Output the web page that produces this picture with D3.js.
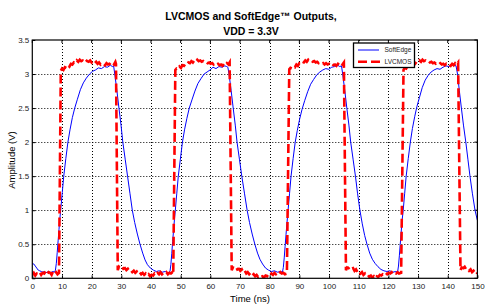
<!DOCTYPE html>
<html lang="en">
<head>
<meta charset="UTF-8">
<title>softedge</title>
<style>
  body{margin:0;background:#fff;}
  svg{display:block;font-family:"Liberation Sans",Arial,sans-serif;}
</style>
</head>
<body>
<svg width="485" height="308"></svg>
<script src="https://cdnjs.cloudflare.com/ajax/libs/d3/7.8.5/d3.min.js"></script>
<script>
// tick values
var xTicks = [0,10,20,30,40,50,60,70,80,90,100,110,120,130,140,150];
var yTicks = [0,0.5,1,1.5,2,2.5,3,3.5];
var yTickLabels = ["0","0.5","1","1.5","2","2.5","3","3.5"];

// series names
var seriesNames = ["SoftEdge","LVCMOS"];

// SoftEdge output, [time ns, volts]
var softEdge = [
 [0,0.22],[0.5,0.21],[1,0.18],[1.5,0.15],[2,0.12],[2.5,0.11],[3,0.10],[3.5,0.09],[4,0.10],[4.5,0.08],[5,0.09],[5.5,0.10],[6,0.08],[6.5,0.09],[7,0.10],[7.5,0.09],
 [7.8,0.12],[8.1,0.22],[8.4,0.38],[8.7,0.55],[9.0,0.72],[9.3,0.88],[9.6,1.02],[10.1,1.26],[10.6,1.50],[11.3,1.76],[12.0,2.00],[12.7,2.18],[13.5,2.36],[14.3,2.50],
 [15.2,2.63],[16.2,2.77],[17.2,2.87],[18.2,2.94],[19.3,3.00],[20.3,3.04],[21.3,3.06],[22.3,3.09],[23.3,3.08],[24.3,3.11],[25.3,3.10],[26.3,3.13],[27.0,3.11],[27.4,3.12],
 [27.8,3.00],[28.5,2.76],[29.2,2.50],[29.9,2.25],[30.5,2.00],[31.3,1.75],[32.1,1.50],[32.9,1.25],[33.7,1.00],[34.5,0.82],[35.4,0.65],[36.3,0.50],[37.2,0.37],[38.0,0.27],
 [38.8,0.20],[39.8,0.15],[40.8,0.12],[41.8,0.10],[42.8,0.11],[43.8,0.09],[44.8,0.10],[45.8,0.08],[46.4,0.10],
 [46.7,0.20],[47.0,0.36],[47.3,0.54],[47.6,0.70],[47.9,0.86],[48.2,1.00],[48.7,1.25],[49.2,1.50],[49.9,1.75],[50.6,2.00],[51.3,2.18],[52.1,2.35],[52.9,2.50],[53.8,2.62],
 [54.8,2.75],[55.8,2.86],[56.8,2.93],[57.9,3.00],[58.9,3.03],[59.9,3.06],[60.9,3.10],[61.9,3.08],[62.9,3.11],[63.9,3.10],[64.9,3.12],[65.5,3.11],[65.9,3.10],
 [66.3,3.00],[67.0,2.76],[67.7,2.50],[68.4,2.25],[69.0,2.00],[69.8,1.75],[70.6,1.50],[71.5,1.25],[72.4,1.00],[73.2,0.82],[74.1,0.65],[75.0,0.50],[75.9,0.37],[76.7,0.28],
 [77.6,0.21],[78.6,0.15],[79.6,0.12],[80.6,0.10],[81.6,0.11],[82.6,0.09],[83.6,0.10],[84.3,0.09],
 [84.6,0.16],[84.9,0.30],[85.2,0.47],[85.5,0.64],[85.8,0.80],[86.2,1.00],[86.7,1.25],[87.2,1.50],[87.9,1.76],[88.6,2.00],[89.3,2.17],[90.1,2.34],[90.9,2.48],[91.8,2.61],
 [92.8,2.74],[93.8,2.85],[94.8,2.92],[95.9,2.99],[96.9,3.03],[97.9,3.06],[98.9,3.08],[99.9,3.07],[100.9,3.10],[101.9,3.11],[102.9,3.13],[103.6,3.11],[104.2,3.12],
 [104.6,3.00],[105.3,2.76],[106.0,2.50],[106.7,2.25],[107.3,2.00],[108.1,1.75],[108.9,1.50],[109.6,1.25],[110.4,1.00],[111.2,0.80],[112.0,0.63],[112.8,0.50],[113.7,0.37],
 [114.6,0.28],[115.5,0.22],[116.5,0.17],[117.5,0.13],[118.5,0.11],[119.5,0.10],[120.5,0.11],[121.5,0.09],[122.5,0.10],[123.1,0.09],
 [123.4,0.18],[123.7,0.33],[124.0,0.50],[124.3,0.67],[124.6,0.84],[125.0,1.00],[125.5,1.25],[126.0,1.50],[126.7,1.76],[127.4,2.00],[128.1,2.20],[128.9,2.38],[129.6,2.52],
 [130.5,2.66],[131.4,2.80],[132.4,2.91],[133.4,2.98],[134.4,3.03],[135.4,3.06],[136.4,3.08],[137.4,3.07],[138.4,3.10],[139.4,3.12],[140.4,3.11],[141.4,3.14],[142.2,3.13],[142.8,3.12],
 [143.3,3.00],[143.9,2.76],[144.6,2.50],[145.3,2.25],[146.1,2.00],[146.8,1.75],[147.5,1.50],[148.3,1.25],[149.2,1.00],[150,0.85]
];

// LVCMOS output, [time ns, volts]
var lvcmos = [
 [0,0.05],[0.5,0.08],[1,0.04],[1.5,0.07],[2,0.06],[2.5,0.09],[3,0.05],[3.5,0.08],[4,0.07],[4.5,0.10],[5,0.06],[5.5,0.09],[6,0.08],[6.5,0.05],[7,0.10],[7.5,0.07],[8,0.09],[8.5,0.06],[9.0,0.08],
 [9.6,3.05],
 [10,3.08],[10.5,3.06],[11,3.10],[11.5,3.09],[12,3.13],[12.5,3.11],[13,3.15],[13.5,3.14],[14,3.17],[14.5,3.16],[15,3.20],[15.5,3.18],[16,3.21],[16.5,3.19],[17,3.20],[17.5,3.18],
 [18,3.21],[18.5,3.19],[19,3.18],[19.5,3.20],[20,3.17],[20.5,3.19],[21,3.16],[21.5,3.18],[22,3.15],[22.5,3.17],[23,3.14],[23.5,3.16],[24,3.15],[24.5,3.13],[25,3.16],[25.5,3.14],
 [26,3.15],[26.5,3.13],[27,3.16],[27.5,3.14],[28,3.18],[28.2,3.15],
 [28.8,0.12],
 [29.2,0.17],[29.7,0.15],[30.2,0.17],[30.7,0.14],[31.2,0.15],[31.7,0.12],[32.2,0.14],[32.7,0.11],[33.2,0.12],[33.7,0.09],[34.2,0.11],[34.7,0.08],[35.2,0.10],[35.7,0.07],
 [36.2,0.09],[36.7,0.06],[37.2,0.08],[37.7,0.05],[38.2,0.07],[38.7,0.04],[39.2,0.06],[39.7,0.03],[40.2,0.05],[40.7,0.04],[41.2,0.07],[41.7,0.05],[42.2,0.08],[42.7,0.06],
 [43.2,0.09],[43.7,0.06],[44.2,0.08],[44.7,0.07],[45.2,0.09],[45.7,0.06],[46.2,0.08],[46.7,0.07],[47.2,0.09],[47.5,0.06],
 [48.2,3.06],
 [48.6,3.08],[49.1,3.07],[49.6,3.11],[50.1,3.09],[50.6,3.13],[51.1,3.12],[51.6,3.15],[52.1,3.14],[52.6,3.17],[53.1,3.16],[53.6,3.19],[54.1,3.17],[54.6,3.20],[55.1,3.18],
 [55.6,3.21],[56.1,3.19],[56.6,3.20],[57.1,3.18],[57.6,3.19],[58.1,3.17],[58.6,3.18],[59.1,3.16],[59.6,3.17],[60.1,3.15],[60.6,3.16],[61.1,3.14],[61.6,3.16],[62.1,3.14],
 [62.6,3.15],[63.1,3.13],[63.6,3.14],[64.1,3.12],[64.6,3.15],[65.1,3.13],[65.6,3.16],[66.1,3.14],[66.5,3.17],
 [67.2,0.12],
 [67.6,0.16],[68.1,0.15],[68.6,0.17],[69.1,0.13],[69.6,0.14],[70.1,0.11],[70.6,0.13],[71.1,0.09],[71.6,0.11],[72.1,0.07],[72.6,0.09],[73.1,0.06],[73.6,0.08],[74.1,0.04],
 [74.6,0.06],[75.1,0.03],[75.6,0.05],[76.1,0.02],[76.6,0.04],[77.1,0.02],[77.6,0.03],[78.1,0.01],[78.6,0.04],[79.1,0.03],[79.6,0.06],[80.1,0.04],[80.6,0.07],[81.1,0.05],
 [81.6,0.08],[82.1,0.06],[82.6,0.08],[83.1,0.06],[83.6,0.09],[84.1,0.07],[84.6,0.08],[85.1,0.06],[85.8,0.07],
 [86.6,3.07],
 [87,3.09],[87.5,3.08],[88,3.11],[88.5,3.10],[89,3.14],[89.5,3.12],[90,3.16],[90.5,3.15],[91,3.18],[91.5,3.17],[92,3.20],[92.5,3.18],[93,3.21],[93.5,3.19],[94,3.20],
 [94.5,3.18],[95,3.19],[95.5,3.17],[96,3.18],[96.5,3.16],[97,3.17],[97.5,3.15],[98,3.16],[98.5,3.14],[99,3.16],[99.5,3.14],[100,3.15],[100.5,3.13],[101,3.15],[101.5,3.13],
 [102,3.14],[102.5,3.12],[103,3.15],[103.5,3.13],[104,3.16],[104.5,3.14],[105,3.17],
 [105.7,0.12],
 [106.1,0.16],[106.6,0.15],[107.1,0.17],[107.6,0.14],[108.1,0.15],[108.6,0.11],[109.1,0.13],[109.6,0.09],[110.1,0.11],[110.6,0.07],[111.1,0.09],[111.6,0.05],[112.1,0.07],
 [112.6,0.04],[113.1,0.05],[113.6,0.02],[114.1,0.04],[114.6,0.01],[115.1,0.03],[115.6,0.00],[116.1,0.03],[116.6,0.02],[117.1,0.05],[117.6,0.04],[118.1,0.06],[118.6,0.05],
 [119.1,0.08],[119.6,0.06],[120.1,0.08],[120.6,0.07],[121.1,0.09],[121.6,0.06],[122.1,0.08],[122.6,0.07],[123.1,0.09],[123.6,0.07],[124.3,0.08],
 [125.1,3.06],
 [125.5,3.09],[126,3.08],[126.5,3.12],[127,3.10],[127.5,3.14],[128,3.13],[128.5,3.16],[129,3.15],[129.5,3.18],[130,3.17],[130.5,3.20],[131,3.18],[131.5,3.21],[132,3.19],
 [132.5,3.20],[133,3.18],[133.5,3.19],[134,3.17],[134.5,3.18],[135,3.16],[135.5,3.17],[136,3.15],[136.5,3.16],[137,3.14],[137.5,3.16],[138,3.14],[138.5,3.15],[139,3.13],
 [139.5,3.15],[140,3.13],[140.5,3.14],[141,3.12],[141.5,3.15],[142,3.13],[142.5,3.16],[143,3.14],[143.5,3.17],
 [144.3,0.12],
 [144.7,0.16],[145.2,0.15],[145.7,0.17],[146.2,0.13],[146.7,0.14],[147.2,0.11],[147.7,0.13],[148.2,0.09],[148.7,0.11],[149.2,0.08],[149.6,0.10],[150,0.07]
];

drawChart();

function drawChart(){
    var svg = d3.select("svg");
    var pLeft = 32.3, pRight = 477.4, pTop = 40, pBottom = 278.3;

    var xscale = d3.scaleLinear().domain([0,150]).range([pLeft,pRight]);
    var yscale = d3.scaleLinear().domain([0,3.5]).range([pBottom,pTop]);

    // title
    svg.append("text").attr("x",251).attr("y",20).attr("text-anchor","middle")
       .attr("font-size","10.5px").attr("font-weight","bold").text("LVCMOS and SoftEdge\u2122 Outputs,");
    svg.append("text").attr("x",251).attr("y",34.5).attr("text-anchor","middle")
       .attr("font-size","10.5px").attr("font-weight","bold").text("VDD = 3.3V");

    // dotted grid
    var grid = svg.append("g").attr("stroke","#000").attr("stroke-width",1).attr("stroke-dasharray","1,2");
    grid.selectAll(".gx").data(xTicks.slice(1,-1)).enter().append("line")
        .attr("x1",function(d){return Math.round(xscale(d))+0.5}).attr("x2",function(d){return Math.round(xscale(d))+0.5})
        .attr("y1",pTop).attr("y2",pBottom);
    grid.selectAll(".gy").data(yTicks.slice(1,-1)).enter().append("line")
        .attr("y1",function(d){return Math.round(yscale(d))+0.5}).attr("y2",function(d){return Math.round(yscale(d))+0.5})
        .attr("x1",pLeft).attr("x2",pRight);

    // axes, ticks pointing inward
    var xAxis = d3.axisBottom(xscale).tickValues(xTicks).tickSize(-3).tickPadding(5).tickFormat(d3.format("d"));
    var gx = svg.append("g").attr("transform","translate(0,"+pBottom+")").call(xAxis);
    var yAxis = d3.axisLeft(yscale).tickValues(yTicks).tickSize(-3).tickPadding(3).tickFormat(function(d,i){return yTickLabels[i]});
    var gy = svg.append("g").attr("transform","translate("+pLeft+",0)").call(yAxis);
    [gx,gy].forEach(function(g){
        g.select(".domain").remove();
        g.selectAll("text").attr("font-size","8px").attr("fill","#222").attr("font-family","Liberation Sans, Arial, sans-serif");
        g.selectAll("line").attr("stroke","#000");
    });
    var mirror = svg.append("g");
    mirror.selectAll(".tx").data(xTicks).enter().append("line")
        .attr("x1",function(d){return xscale(d)}).attr("x2",function(d){return xscale(d)})
        .attr("y1",pTop).attr("y2",pTop+3).attr("stroke","#000");
    mirror.selectAll(".ty").data(yTicks).enter().append("line")
        .attr("y1",function(d){return yscale(d)}).attr("y2",function(d){return yscale(d)})
        .attr("x1",pRight).attr("x2",pRight-3).attr("stroke","#000");

    // clip
    svg.append("clipPath").attr("id","plotclip").append("rect")
       .attr("x",pLeft).attr("y",pTop).attr("width",pRight-pLeft).attr("height",pBottom-pTop);

    var line = d3.line().x(function(d){return xscale(d[0])}).y(function(d){return yscale(d[1])}).curve(d3.curveLinear);

    var plot = svg.append("g").attr("clip-path","url(#plotclip)");
    plot.append("path").attr("d",line(softEdge)).attr("fill","none").attr("stroke","#0000ff").attr("stroke-width",1);
    plot.append("path").attr("d",line(lvcmos)).attr("fill","none").attr("stroke","#ff0000")
        .attr("stroke-width",2.6).attr("stroke-dasharray","9,4");

    // frame
    svg.append("rect").attr("x",pLeft).attr("y",pTop).attr("width",pRight-pLeft).attr("height",pBottom-pTop)
       .attr("fill","none").attr("stroke","#000").attr("stroke-width",1.2);

    // axis labels
    svg.append("text").attr("x",250).attr("y",302).attr("text-anchor","middle").attr("font-size","9.5px").text("Time (ns)");
    svg.append("text").attr("transform","translate(15,160) rotate(-90)").attr("text-anchor","middle")
       .attr("font-size","9.5px").text("Amplitude (V)");

    // legend
    var lg = svg.append("g");
    lg.append("rect").attr("x",353.5).attr("y",43).attr("width",61).attr("height",24.5)
      .attr("fill","#fff").attr("stroke","#000").attr("stroke-width",1.3);
    lg.append("line").attr("x1",358).attr("x2",379).attr("y1",50).attr("y2",50).attr("stroke","#0000ff").attr("stroke-width",1);
    lg.append("line").attr("x1",358).attr("x2",380).attr("y1",61.7).attr("y2",61.7).attr("stroke","#ff0000")
      .attr("stroke-width",2.6).attr("stroke-dasharray","9,4");
    lg.selectAll("text").data(seriesNames).enter().append("text")
      .attr("x",384.5).attr("y",function(d,i){return 52.3+i*11.7}).attr("font-size","6.5px").attr("fill","#222").text(function(d){return d});
}
</script>
</body>
</html>
